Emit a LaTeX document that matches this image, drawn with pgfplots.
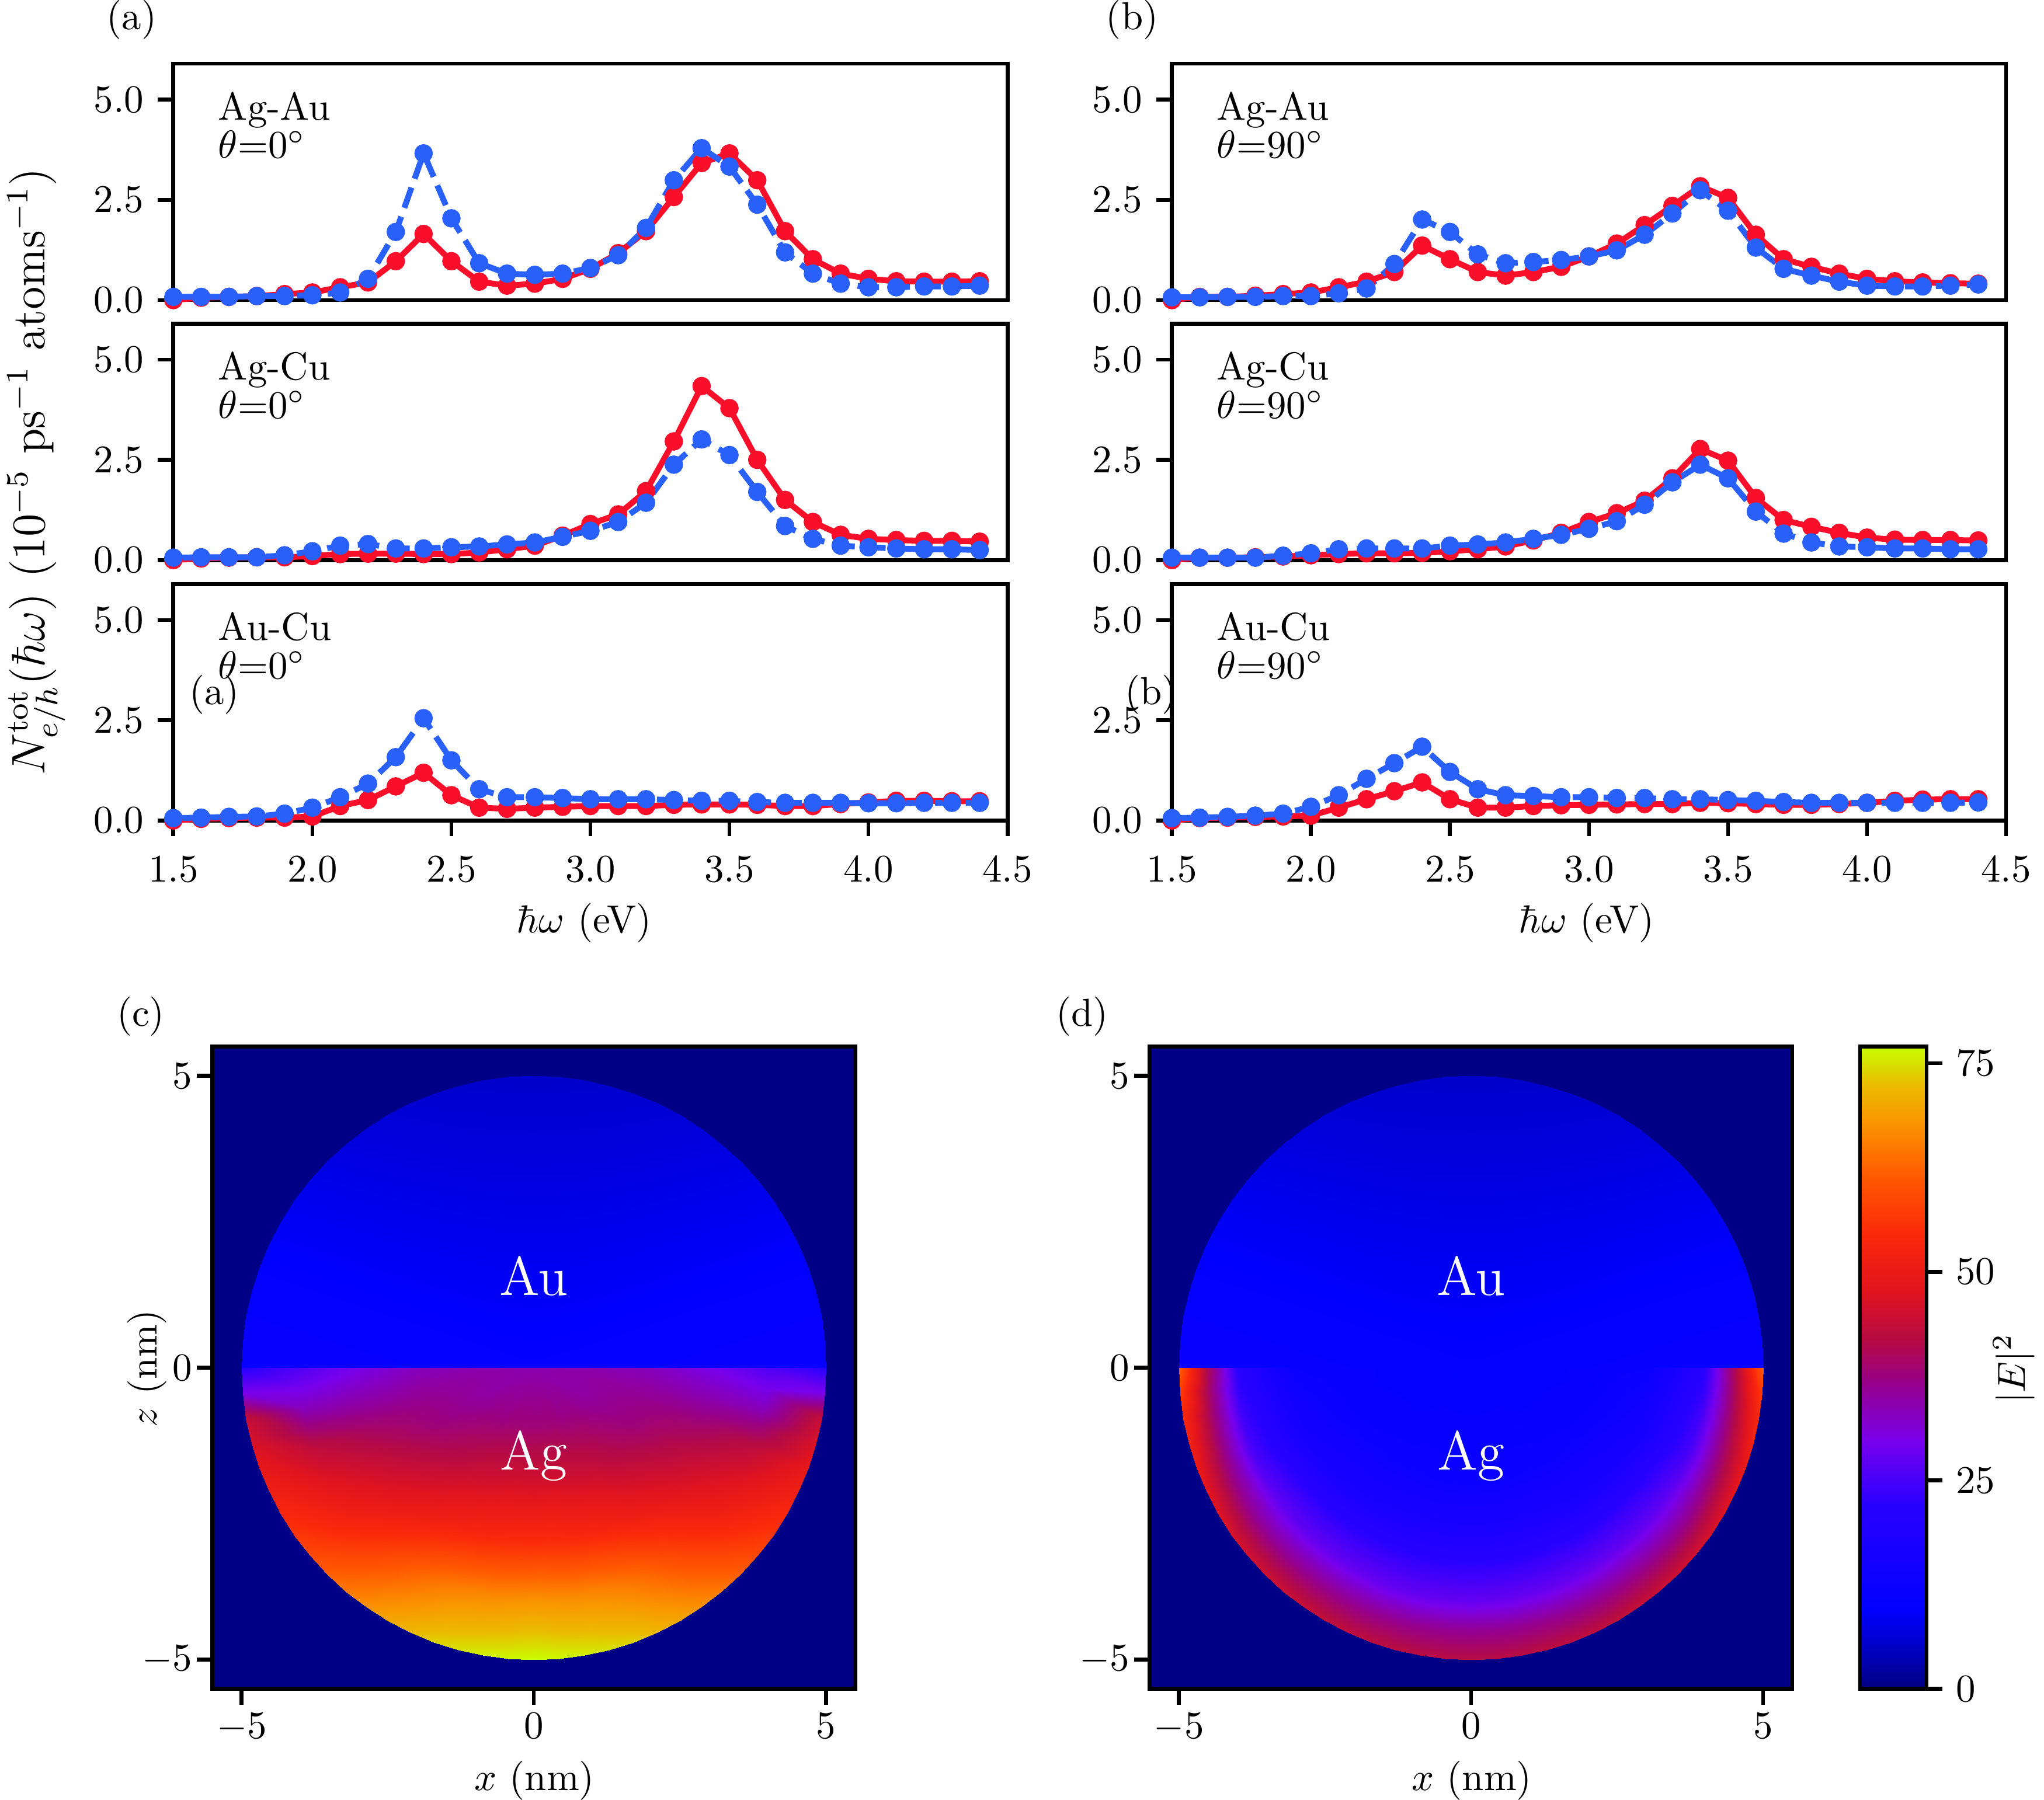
\documentclass[border=0pt]{standalone}
\usepackage{pgfplots}
\usepackage{pgfplotstable}
\pgfplotsset{compat=1.18}

\definecolor{myred}{RGB}{250,15,42}
\definecolor{myblue}{RGB}{42,96,250}
\definecolor{bgnavy}{RGB}{0,0,135}

\pgfplotstableread{
x r b
1.5 0.00 0.08
1.6 0.06 0.08
1.7 0.08 0.08
1.8 0.10 0.10
1.9 0.15 0.10
2.0 0.19 0.12
2.1 0.32 0.19
2.2 0.44 0.53
2.3 0.97 1.70
2.4 1.65 3.66
2.5 0.97 2.04
2.6 0.46 0.92
2.7 0.36 0.66
2.8 0.41 0.63
2.9 0.53 0.66
3.0 0.78 0.80
3.1 1.17 1.12
3.2 1.72 1.80
3.3 2.57 2.99
3.4 3.42 3.79
3.5 3.66 3.33
3.6 2.99 2.38
3.7 1.72 1.19
3.8 1.02 0.66
3.9 0.66 0.41
4.0 0.53 0.32
4.1 0.47 0.32
4.2 0.46 0.34
4.3 0.46 0.34
4.4 0.47 0.36
}\AgAuA

\pgfplotstableread{
x r b
1.5 0.00 0.06
1.6 0.04 0.07
1.7 0.06 0.07
1.8 0.07 0.07
1.9 0.07 0.12
2.0 0.10 0.22
2.1 0.15 0.36
2.2 0.16 0.40
2.3 0.16 0.29
2.4 0.15 0.29
2.5 0.15 0.32
2.6 0.19 0.34
2.7 0.27 0.39
2.8 0.36 0.44
2.9 0.61 0.58
3.0 0.90 0.73
3.1 1.14 0.95
3.2 1.72 1.43
3.3 2.96 2.38
3.4 4.34 3.01
3.5 3.79 2.62
3.6 2.50 1.70
3.7 1.50 0.85
3.8 0.95 0.53
3.9 0.63 0.36
4.0 0.53 0.32
4.1 0.50 0.29
4.2 0.48 0.27
4.3 0.48 0.27
4.4 0.46 0.25
}\AgCuA

\pgfplotstableread{
x r b
1.5 0.00 0.06
1.6 0.04 0.07
1.7 0.06 0.09
1.8 0.07 0.10
1.9 0.07 0.17
2.0 0.10 0.32
2.1 0.36 0.58
2.2 0.51 0.92
2.3 0.85 1.58
2.4 1.19 2.55
2.5 0.63 1.50
2.6 0.32 0.78
2.7 0.29 0.58
2.8 0.32 0.58
2.9 0.34 0.56
3.0 0.36 0.53
3.1 0.36 0.53
3.2 0.36 0.53
3.3 0.39 0.51
3.4 0.40 0.49
3.5 0.40 0.49
3.6 0.39 0.46
3.7 0.36 0.44
3.8 0.36 0.44
3.9 0.41 0.44
4.0 0.45 0.43
4.1 0.49 0.43
4.2 0.49 0.44
4.3 0.48 0.44
4.4 0.48 0.44
}\AuCuA

\pgfplotstableread{
x r b
1.5 0.00 0.07
1.6 0.08 0.07
1.7 0.08 0.08
1.8 0.11 0.08
1.9 0.15 0.10
2.0 0.19 0.10
2.1 0.32 0.17
2.2 0.46 0.29
2.3 0.70 0.90
2.4 1.36 2.01
2.5 1.02 1.70
2.6 0.70 1.14
2.7 0.61 0.92
2.8 0.70 0.95
2.9 0.83 1.00
3.0 1.09 1.09
3.1 1.41 1.24
3.2 1.87 1.63
3.3 2.35 2.16
3.4 2.84 2.74
3.5 2.55 2.23
3.6 1.63 1.31
3.7 1.02 0.78
3.8 0.83 0.61
3.9 0.66 0.46
4.0 0.53 0.36
4.1 0.47 0.34
4.2 0.44 0.34
4.3 0.42 0.36
4.4 0.41 0.39
}\AgAuB

\pgfplotstableread{
x r b
1.5 0.00 0.06
1.6 0.06 0.06
1.7 0.06 0.06
1.8 0.07 0.06
1.9 0.09 0.11
2.0 0.12 0.17
2.1 0.15 0.27
2.2 0.17 0.29
2.3 0.17 0.29
2.4 0.18 0.29
2.5 0.22 0.36
2.6 0.27 0.39
2.7 0.34 0.44
2.8 0.49 0.53
2.9 0.68 0.63
3.0 0.95 0.78
3.1 1.17 0.97
3.2 1.48 1.38
3.3 2.04 1.94
3.4 2.77 2.38
3.5 2.48 2.04
3.6 1.55 1.21
3.7 1.00 0.66
3.8 0.83 0.44
3.9 0.68 0.34
4.0 0.56 0.32
4.1 0.51 0.29
4.2 0.50 0.29
4.3 0.50 0.27
4.4 0.49 0.27
}\AgCuB

\pgfplotstableread{
x r b
1.5 0.00 0.06
1.6 0.06 0.07
1.7 0.07 0.09
1.8 0.09 0.12
1.9 0.10 0.17
2.0 0.12 0.34
2.1 0.32 0.63
2.2 0.53 1.04
2.3 0.73 1.43
2.4 0.95 1.84
2.5 0.53 1.21
2.6 0.32 0.78
2.7 0.32 0.63
2.8 0.36 0.61
2.9 0.38 0.58
3.0 0.39 0.58
3.1 0.40 0.56
3.2 0.41 0.56
3.3 0.41 0.53
3.4 0.44 0.53
3.5 0.43 0.51
3.6 0.41 0.49
3.7 0.39 0.46
3.8 0.39 0.44
3.9 0.41 0.44
4.0 0.44 0.44
4.1 0.49 0.44
4.2 0.52 0.44
4.3 0.53 0.44
4.4 0.53 0.45
}\AuCuB

% ---- field maps: angle (deg), radius (nm), |E|^2
\pgfplotstableread[row sep=\\]{
a r v\\
0 0 10\\ 5 0 10\\ 10 0 10\\ 15 0 10\\ 20 0 10\\ 25 0 10\\ 30 0 10\\ 35 0 10\\ 40 0 10\\ 45 0 10\\ 50 0 10\\ 55 0 10\\ 60 0 10\\ 65 0 10\\ 70 0 10\\ 75 0 10\\ 80 0 10\\ 85 0 10\\ 90 0 10\\ 95 0 10\\ 100 0 10\\ 105 0 10\\ 110 0 10\\ 115 0 10\\ 120 0 10\\ 125 0 10\\ 130 0 10\\ 135 0 10\\ 140 0 10\\ 145 0 10\\ 150 0 10\\ 155 0 10\\ 160 0 10\\ 165 0 10\\ 170 0 10\\ 175 0 10\\ 180 0 10\\
0 5 12\\ 5 5 11.43\\ 10 5 10.87\\ 15 5 10.32\\ 20 5 9.78\\ 25 5 9.25\\ 30 5 8.75\\ 35 5 8.27\\ 40 5 7.82\\ 45 5 7.40\\ 50 5 7.02\\ 55 5 6.68\\ 60 5 6.37\\ 65 5 6.11\\ 70 5 5.89\\ 75 5 5.72\\ 80 5 5.60\\ 85 5 5.53\\ 90 5 5.5\\ 95 5 5.53\\ 100 5 5.60\\ 105 5 5.72\\ 110 5 5.89\\ 115 5 6.11\\ 120 5 6.37\\ 125 5 6.68\\ 130 5 7.02\\ 135 5 7.40\\ 140 5 7.82\\ 145 5 8.27\\ 150 5 8.75\\ 155 5 9.25\\ 160 5 9.78\\ 165 5 10.32\\ 170 5 10.87\\ 175 5 11.43\\ 180 5 12\\
}\hTop

\pgfplotstableread[row sep=\\]{
a r v\\
180 0 34\\ 185 0 34\\ 190 0 34\\ 195 0 34\\ 200 0 34\\ 205 0 34\\ 210 0 34\\ 215 0 34\\ 220 0 34\\ 225 0 34\\ 230 0 34\\ 235 0 34\\ 240 0 34\\ 245 0 34\\ 250 0 34\\ 255 0 34\\ 260 0 34\\ 265 0 34\\ 270 0 34\\ 275 0 34\\ 280 0 34\\ 285 0 34\\ 290 0 34\\ 295 0 34\\ 300 0 34\\ 305 0 34\\ 310 0 34\\ 315 0 34\\ 320 0 34\\ 325 0 34\\ 330 0 34\\ 335 0 34\\ 340 0 34\\ 345 0 34\\ 350 0 34\\ 355 0 34\\ 360 0 34\\
180 1 34\\ 185 1 34.5\\ 190 1 35\\ 195 1 35\\ 200 1 35\\ 205 1 35\\ 210 1 35\\ 215 1 35.5\\ 220 1 36\\ 225 1 36.5\\ 230 1 37\\ 235 1 37\\ 240 1 37\\ 245 1 37.5\\ 250 1 38\\ 255 1 38\\ 260 1 38\\ 265 1 38\\ 270 1 38\\ 275 1 38\\ 280 1 38\\ 285 1 38\\ 290 1 38\\ 295 1 37.5\\ 300 1 37\\ 305 1 37\\ 310 1 37\\ 315 1 36.5\\ 320 1 36\\ 325 1 35.5\\ 330 1 35\\ 335 1 35\\ 340 1 35\\ 345 1 35\\ 350 1 35\\ 355 1 34.5\\ 360 1 34\\
180 2 33\\ 185 2 34\\ 190 2 35\\ 195 2 36\\ 200 2 37\\ 205 2 37.5\\ 210 2 38\\ 215 2 39\\ 220 2 40\\ 225 2 41\\ 230 2 42\\ 235 2 43\\ 240 2 44\\ 245 2 44.5\\ 250 2 45\\ 255 2 45.5\\ 260 2 46\\ 265 2 46\\ 270 2 46\\ 275 2 46\\ 280 2 46\\ 285 2 45.5\\ 290 2 45\\ 295 2 44.5\\ 300 2 44\\ 305 2 43\\ 310 2 42\\ 315 2 41\\ 320 2 40\\ 325 2 39\\ 330 2 38\\ 335 2 37.5\\ 340 2 37\\ 345 2 36\\ 350 2 35\\ 355 2 34\\ 360 2 33\\
180 3 30\\ 185 3 32\\ 190 3 34\\ 195 3 36.5\\ 200 3 39\\ 205 3 41\\ 210 3 43\\ 215 3 44.5\\ 220 3 46\\ 225 3 47.5\\ 230 3 49\\ 235 3 50\\ 240 3 51.5\\ 245 3 52.5\\ 250 3 53.5\\ 255 3 54\\ 260 3 54.5\\ 265 3 55\\ 270 3 55\\ 275 3 55\\ 280 3 54.5\\ 285 3 54\\ 290 3 53.5\\ 295 3 52.5\\ 300 3 51.5\\ 305 3 50\\ 310 3 49\\ 315 3 47.5\\ 320 3 46\\ 325 3 44.5\\ 330 3 43\\ 335 3 41\\ 340 3 39\\ 345 3 36.5\\ 350 3 34\\ 355 3 32\\ 360 3 30\\
180 4 26\\ 185 4 29.5\\ 190 4 33\\ 195 4 38\\ 200 4 43\\ 205 4 45.5\\ 210 4 48\\ 215 4 50\\ 220 4 52\\ 225 4 54.5\\ 230 4 57\\ 235 4 59.5\\ 240 4 62\\ 245 4 64\\ 250 4 65.5\\ 255 4 66.5\\ 260 4 67\\ 265 4 67.5\\ 270 4 68\\ 275 4 67.5\\ 280 4 67\\ 285 4 66.5\\ 290 4 65.5\\ 295 4 64\\ 300 4 62\\ 305 4 59.5\\ 310 4 57\\ 315 4 54.5\\ 320 4 52\\ 325 4 50\\ 330 4 48\\ 335 4 45.5\\ 340 4 43\\ 345 4 38\\ 350 4 33\\ 355 4 29.5\\ 360 4 26\\
180 5 22\\ 185 5 30\\ 190 5 44\\ 195 5 46.5\\ 200 5 49\\ 205 5 51.5\\ 210 5 54\\ 215 5 56.5\\ 220 5 59\\ 225 5 62\\ 230 5 65\\ 235 5 67.5\\ 240 5 70\\ 245 5 72\\ 250 5 74\\ 255 5 75\\ 260 5 76\\ 265 5 76.5\\ 270 5 77\\ 275 5 76.5\\ 280 5 76\\ 285 5 75\\ 290 5 74\\ 295 5 72\\ 300 5 70\\ 305 5 67.5\\ 310 5 65\\ 315 5 62\\ 320 5 59\\ 325 5 56.5\\ 330 5 54\\ 335 5 51.5\\ 340 5 49\\ 345 5 46.5\\ 350 5 44\\ 355 5 30\\ 360 5 22\\
}\cBot

\pgfplotstableread[row sep=\\]{
a r v\\
180 0 10\\ 185 0 10\\ 190 0 10\\ 195 0 10\\ 200 0 10\\ 205 0 10\\ 210 0 10\\ 215 0 10\\ 220 0 10\\ 225 0 10\\ 230 0 10\\ 235 0 10\\ 240 0 10\\ 245 0 10\\ 250 0 10\\ 255 0 10\\ 260 0 10\\ 265 0 10\\ 270 0 10\\ 275 0 10\\ 280 0 10\\ 285 0 10\\ 290 0 10\\ 295 0 10\\ 300 0 10\\ 305 0 10\\ 310 0 10\\ 315 0 10\\ 320 0 10\\ 325 0 10\\ 330 0 10\\ 335 0 10\\ 340 0 10\\ 345 0 10\\ 350 0 10\\ 355 0 10\\ 360 0 10\\
180 1 10.5\\ 185 1 10.5\\ 190 1 10.5\\ 195 1 10.5\\ 200 1 10.5\\ 205 1 10.5\\ 210 1 10.5\\ 215 1 10.5\\ 220 1 10.5\\ 225 1 10.75\\ 230 1 11\\ 235 1 11\\ 240 1 11\\ 245 1 11\\ 250 1 11\\ 255 1 11\\ 260 1 11\\ 265 1 11\\ 270 1 11\\ 275 1 11\\ 280 1 11\\ 285 1 11\\ 290 1 11\\ 295 1 11\\ 300 1 11\\ 305 1 11\\ 310 1 11\\ 315 1 10.75\\ 320 1 10.5\\ 325 1 10.5\\ 330 1 10.5\\ 335 1 10.5\\ 340 1 10.5\\ 345 1 10.5\\ 350 1 10.5\\ 355 1 10.5\\ 360 1 10.5\\
180 2 11\\ 185 2 11\\ 190 2 11\\ 195 2 11.25\\ 200 2 11.5\\ 205 2 11.75\\ 210 2 12\\ 215 2 12.25\\ 220 2 12.5\\ 225 2 12.5\\ 230 2 12.5\\ 235 2 12.75\\ 240 2 13\\ 245 2 13\\ 250 2 13\\ 255 2 13\\ 260 2 13\\ 265 2 13\\ 270 2 13\\ 275 2 13\\ 280 2 13\\ 285 2 13\\ 290 2 13\\ 295 2 13\\ 300 2 13\\ 305 2 12.75\\ 310 2 12.5\\ 315 2 12.5\\ 320 2 12.5\\ 325 2 12.25\\ 330 2 12\\ 335 2 11.75\\ 340 2 11.5\\ 345 2 11.25\\ 350 2 11\\ 355 2 11\\ 360 2 11\\
180 3 12\\ 185 3 13\\ 190 3 14\\ 195 3 14.5\\ 200 3 15\\ 205 3 15.75\\ 210 3 16.5\\ 215 3 17\\ 220 3 17.5\\ 225 3 17.75\\ 230 3 18\\ 235 3 18.25\\ 240 3 18.5\\ 245 3 18.75\\ 250 3 19\\ 255 3 19\\ 260 3 19\\ 265 3 19\\ 270 3 19\\ 275 3 19\\ 280 3 19\\ 285 3 19\\ 290 3 19\\ 295 3 18.75\\ 300 3 18.5\\ 305 3 18.25\\ 310 3 18\\ 315 3 17.75\\ 320 3 17.5\\ 325 3 17\\ 330 3 16.5\\ 335 3 15.75\\ 340 3 15\\ 345 3 14.5\\ 350 3 14\\ 355 3 13\\ 360 3 12\\
180 4 22\\ 185 4 23\\ 190 4 24\\ 195 4 24.5\\ 200 4 25\\ 205 4 26\\ 210 4 27\\ 215 4 27.25\\ 220 4 27.5\\ 225 4 27.75\\ 230 4 28\\ 235 4 28\\ 240 4 28\\ 245 4 28\\ 250 4 28\\ 255 4 28\\ 260 4 28\\ 265 4 28\\ 270 4 28\\ 275 4 28\\ 280 4 28\\ 285 4 28\\ 290 4 28\\ 295 4 28\\ 300 4 28\\ 305 4 28\\ 310 4 28\\ 315 4 27.75\\ 320 4 27.5\\ 325 4 27.25\\ 330 4 27\\ 335 4 26\\ 340 4 25\\ 345 4 24.5\\ 350 4 24\\ 355 4 23\\ 360 4 22\\
180 4.5 40\\ 185 4.5 39\\ 190 4.5 38.5\\ 195 4.5 38\\ 200 4.5 37.5\\ 205 4.5 37\\ 210 4.5 36.5\\ 215 4.5 36\\ 220 4.5 36\\ 225 4.5 36\\ 230 4.5 36\\ 235 4.5 36\\ 240 4.5 36\\ 245 4.5 36\\ 250 4.5 36\\ 255 4.5 36\\ 260 4.5 36\\ 265 4.5 36\\ 270 4.5 36\\ 275 4.5 36\\ 280 4.5 36\\ 285 4.5 36\\ 290 4.5 36\\ 295 4.5 36\\ 300 4.5 36\\ 305 4.5 36\\ 310 4.5 36\\ 315 4.5 36\\ 320 4.5 36\\ 325 4.5 36\\ 330 4.5 36.5\\ 335 4.5 37\\ 340 4.5 37.5\\ 345 4.5 38\\ 350 4.5 38.5\\ 355 4.5 39\\ 360 4.5 40\\
180 5 62\\ 185 5 57\\ 190 5 54\\ 195 5 52\\ 200 5 50\\ 205 5 48.5\\ 210 5 47.5\\ 215 5 46.5\\ 220 5 45.5\\ 225 5 45\\ 230 5 44.5\\ 235 5 44\\ 240 5 43.5\\ 245 5 43\\ 250 5 42.75\\ 255 5 42.5\\ 260 5 42.25\\ 265 5 42\\ 270 5 42\\ 275 5 42\\ 280 5 42.25\\ 285 5 42.5\\ 290 5 42.75\\ 295 5 43\\ 300 5 43.5\\ 305 5 44\\ 310 5 44.5\\ 315 5 45\\ 320 5 45.5\\ 325 5 46.5\\ 330 5 47.5\\ 335 5 48.5\\ 340 5 50\\ 345 5 52\\ 350 5 54\\ 355 5 57\\ 360 5 62\\
}\dBot

\pgfplotsset{
  colormap={Ecmap}{rgb255(0pt)=(0,0,130); rgb255(9.4pt)=(0,0,255); rgb255(22pt)=(40,0,255); rgb255(29.8pt)=(120,0,235); rgb255(36.5pt)=(150,0,140); rgb255(41.6pt)=(180,10,70); rgb255(47.7pt)=(225,20,30); rgb255(54.3pt)=(250,40,10); rgb255(61.5pt)=(255,90,0); rgb255(68pt)=(250,150,0); rgb255(72.2pt)=(235,185,0); rgb255(77pt)=(200,255,0)},
  basestyle/.style={scale only axis, anchor=south west,
    axis line style={line width=1pt}, tick style={line width=1pt, black},
    tick align=outside, major tick length=4pt, xtick pos=bottom, ytick pos=left},
  spec/.style={basestyle, width=213.3pt, height=60.5pt, xmin=1.5, xmax=4.5, ymin=0, ymax=5.9,
    ytick={0,2.5,5},
    yticklabel style={/pgf/number format/.cd, fixed, fixed zerofill, precision=1},
    xticklabel style={yshift=-1.7pt, /pgf/number format/.cd, fixed, fixed zerofill, precision=1},
    xtick=\empty, clip=false},
  lastrow/.style={xtick={1.5,2,2.5,3,3.5,4,4.5}},
  pr/.style={color=myred, line width=1.5pt, mark=*, mark size=1.6pt, mark options={solid}},
  pb/.style={color=myblue, line width=1.5pt, dash pattern=on 5.5pt off 2.4pt, mark=*, mark size=1.6pt, mark options={solid}},
  heat/.style={basestyle, width=164.33pt, height=164.33pt, xmin=-5.5, xmax=5.5, ymin=-5.5, ymax=5.5,
    xtick={-5,0,5}, ytick={-5,0,5}, axis background/.style={fill=bgnavy},
    xticklabel style={yshift=1.3pt}, yticklabel style={xshift=2.3pt},
    axis on top, colormap name=Ecmap, point meta min=0, point meta max=77},
  hm/.style={surf, shader=interp, data cs=polar, point meta=explicit, mesh/ordering=x varies, mesh/cols=37},
}

\newcommand{\spectra}[3]{%
  \addplot[pr] table[x=x,y=r] {#1};
  \addplot[pb] table[x=x,y=b] {#1};
  \node[anchor=base west, inner sep=0pt] at (rel axis cs:0.053,0.761) {#2};
  \node[anchor=base west, inner sep=0pt] at (rel axis cs:0.053,0.600) {$\theta$=#3$^\circ$};
}

\begin{document}
\begin{tikzpicture}
\path[use as bounding box] (0pt,0pt) rectangle (522.67pt,460.33pt);

% ---- left column (theta = 0)
\begin{axis}[spec, at={(44.33pt,383.57pt)}]
\spectra{\AgAuA}{Ag-Au}{0}
\end{axis}
\begin{axis}[spec, at={(44.33pt,317.07pt)}]
\spectra{\AgCuA}{Ag-Cu}{0}
\end{axis}
\begin{axis}[spec, lastrow, at={(44.33pt,250.47pt)}]
\spectra{\AuCuA}{Au-Cu}{0}
\end{axis}

% ---- right column (theta = 90)
\begin{axis}[spec, at={(299.67pt,383.57pt)}]
\spectra{\AgAuB}{Ag-Au}{90}
\end{axis}
\begin{axis}[spec, at={(299.67pt,317.07pt)}]
\spectra{\AgCuB}{Ag-Cu}{90}
\end{axis}
\begin{axis}[spec, lastrow, at={(299.67pt,250.47pt)}]
\spectra{\AuCuB}{Au-Cu}{90}
\end{axis}

% ---- field maps
\begin{axis}[heat, at={(54.33pt,28.33pt)}]
\addplot[hm] table[x=a, y=r, meta=v] {\hTop};
\addplot[hm] table[x=a, y=r, meta=v] {\cBot};
\node[white, anchor=base, font=\fontsize{14}{16}\selectfont] at (axis cs:0,1.24) {Au};
\node[white, anchor=base, font=\fontsize{14}{16}\selectfont] at (axis cs:0,-1.75) {Ag};
\end{axis}

\begin{axis}[heat, at={(294pt,28.33pt)},
  colorbar, colorbar/width=17pt,
  colorbar style={at={(parent axis.north east)}, anchor=north west, xshift=8.79pt,
    ytick={0,25,50,75}, ytick pos=right, yticklabel pos=right,
    axis line style={line width=1pt}, tick style={line width=1pt, black},
    tick align=outside, major tick length=4pt}]
\addplot[hm] table[x=a, y=r, meta=v] {\hTop};
\addplot[hm] table[x=a, y=r, meta=v] {\dBot};
\node[white, anchor=base, font=\fontsize{14}{16}\selectfont] at (axis cs:0,1.24) {Au};
\node[white, anchor=base, font=\fontsize{14}{16}\selectfont] at (axis cs:0,-1.75) {Ag};
\end{axis}

% ---- labels
\node at (149.33pt,224.33pt) {$\hbar\omega$ (eV)};
\node at (405.67pt,224.33pt) {$\hbar\omega$ (eV)};
\node[anchor=base] at (136.67pt,2.4pt) {$x$ (nm)};
\node[anchor=base] at (376.33pt,2.4pt) {$x$ (nm)};
\node[rotate=90] at (37.67pt,110.33pt) {$z$ (nm)};
\node[rotate=90] at (515pt,110.33pt) {$|E|^2$};
\node at (33.7pt,455.33pt) {(a)};
\node at (289.5pt,455.33pt) {(b)};
\node at (54.83pt,282.67pt) {(a)};
\node at (294.33pt,282.67pt) {(b)};
\node at (36pt,200.33pt) {(c)};
\node at (276.67pt,200.33pt) {(d)};
\node[rotate=90, font=\fontsize{12}{14}\selectfont, inner sep=0pt] at (9.3pt,339.7pt) {$N^{\mathrm{tot}}_{e/h}(\hbar\omega)$ $(10^{-5}$ ps$^{-1}$ atoms$^{-1})$};
\end{tikzpicture}
\end{document}
